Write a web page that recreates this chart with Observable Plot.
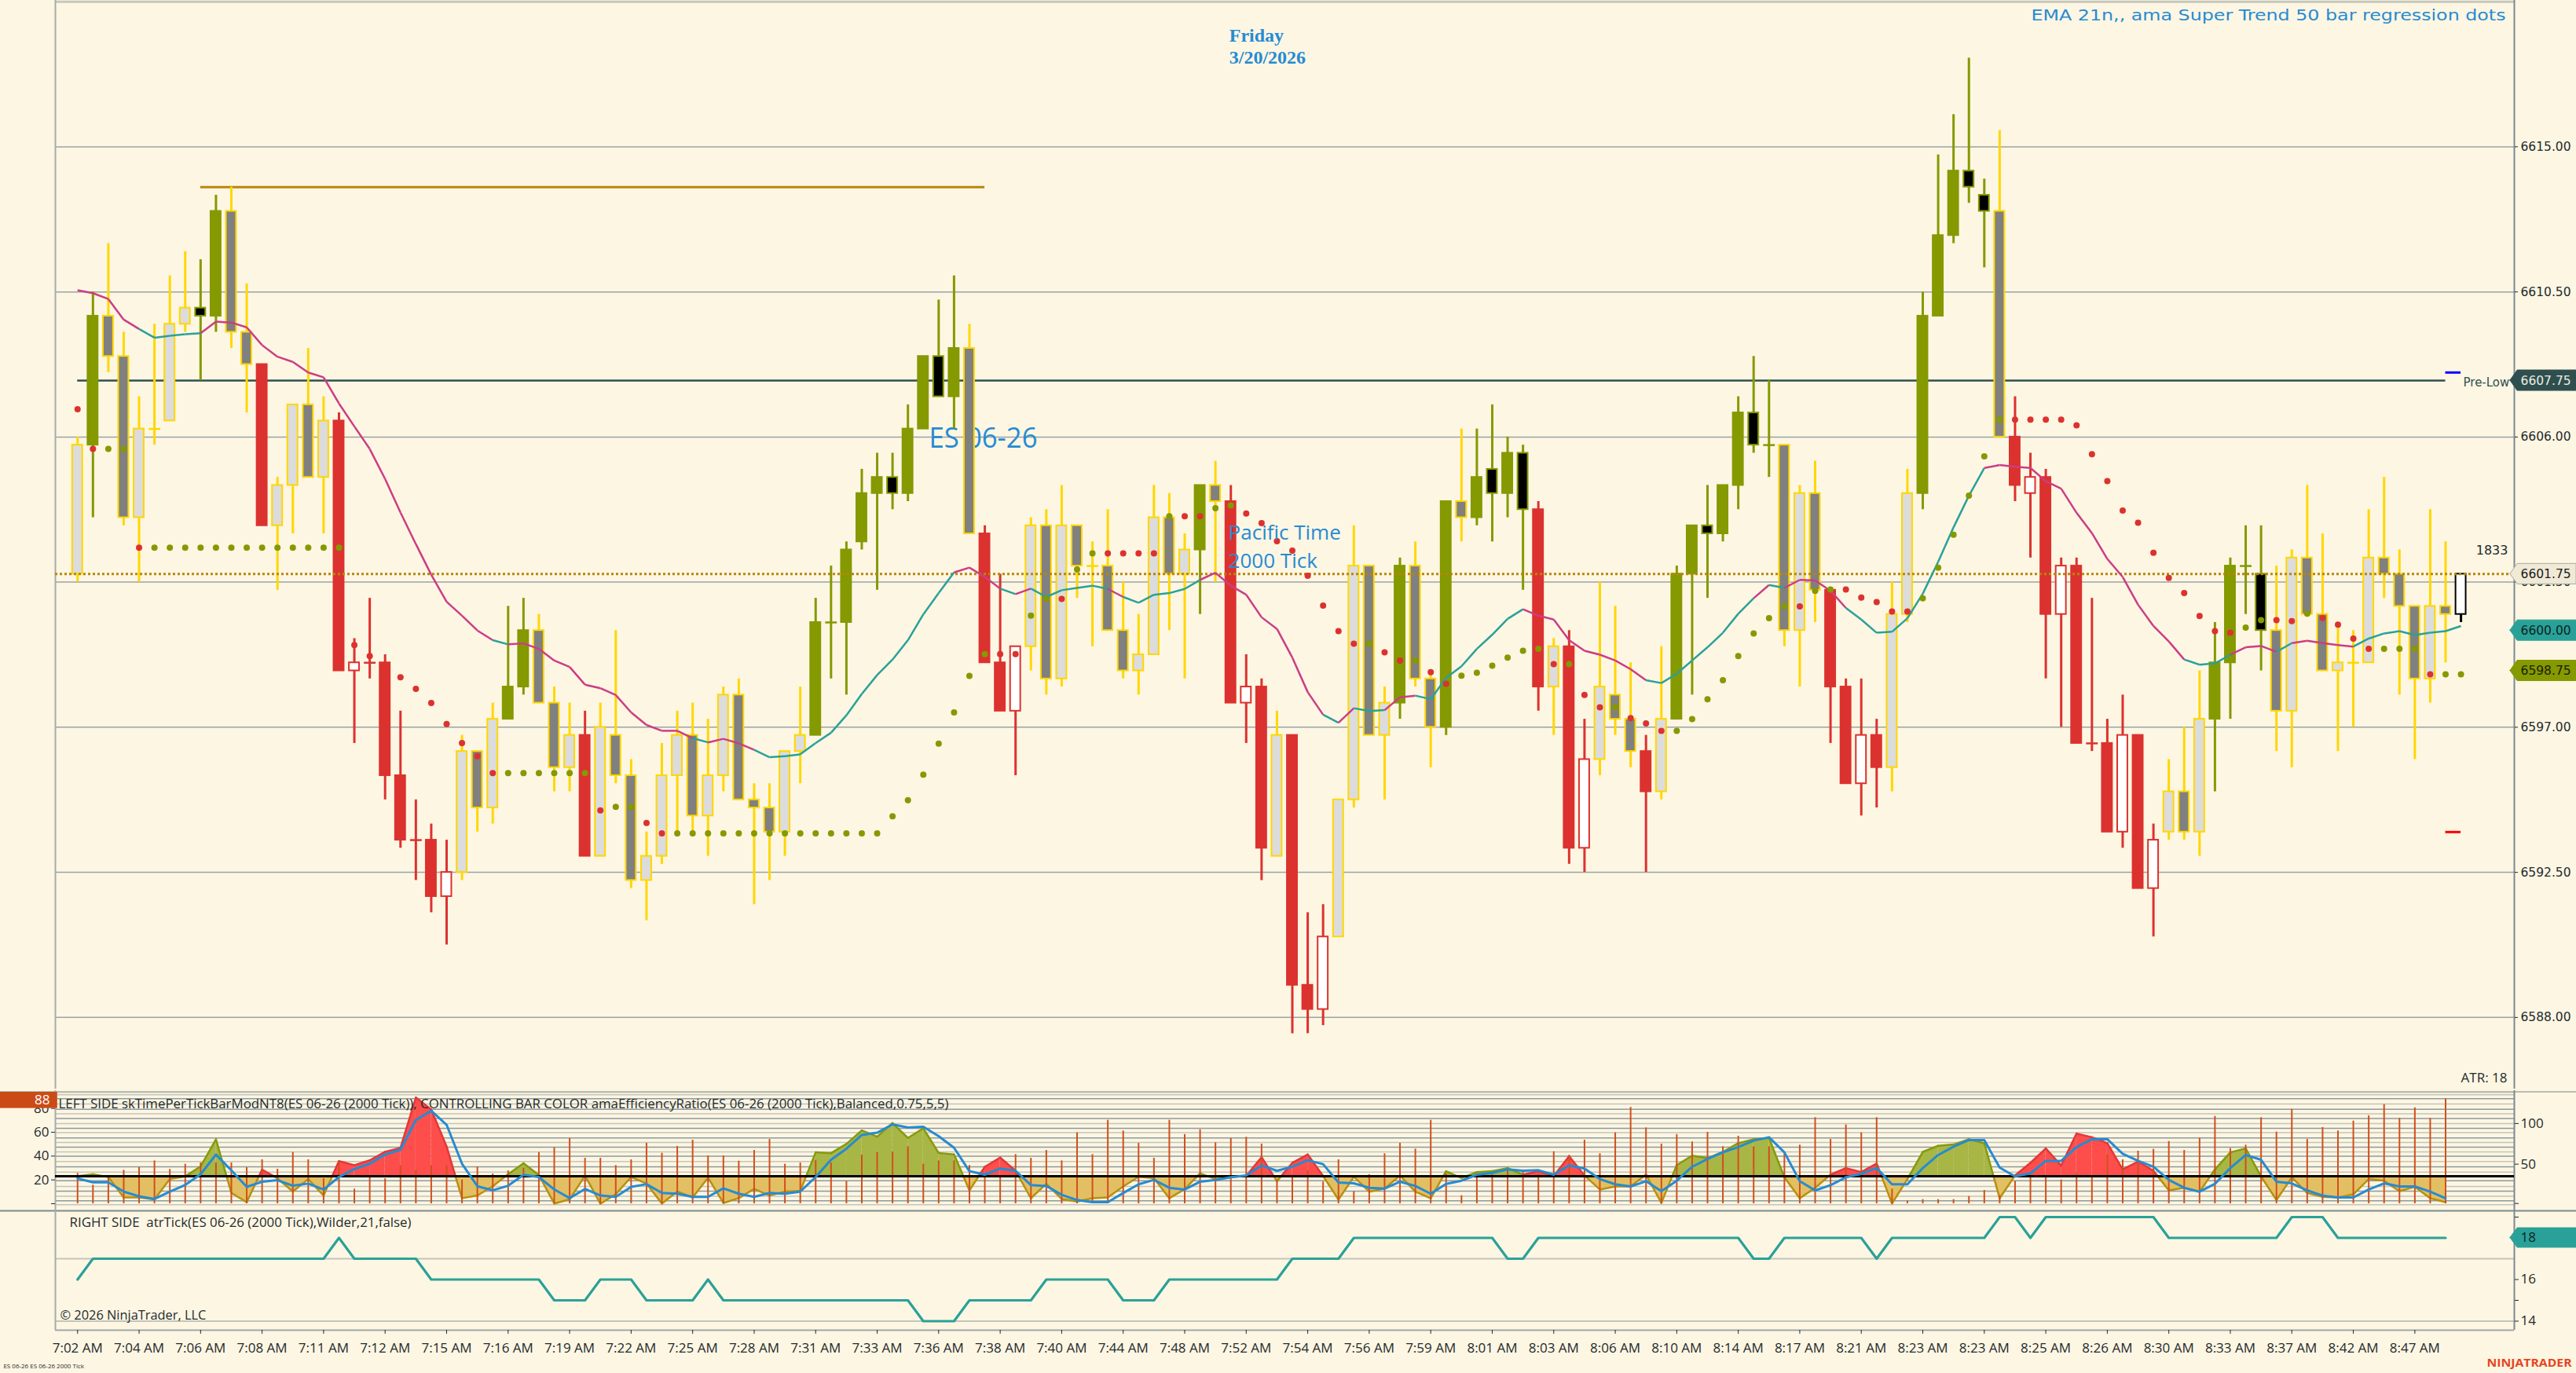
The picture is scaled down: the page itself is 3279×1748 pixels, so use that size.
<!DOCTYPE html>
<html><head><meta charset="utf-8">
<script src="https://cdn.jsdelivr.net/npm/d3@7"></script>
<script src="https://cdn.jsdelivr.net/npm/@observablehq/plot@0.6"></script>
<style>
html,body{margin:0;padding:0;background:#fdf6e3;overflow:hidden;}
#chart{position:relative;width:3279px;height:1748px;background:#fdf6e3;overflow:hidden;}
#chart svg{position:absolute;left:0;}
</style></head><body><div id="chart"></div>
<script>
// ---------------- DATA ----------------
const open = [6601.75,6605.75,6609.75,6608.5,6603.5,6606.25,6606.5,6609.5,6610,6609.75,
6613,6609.25,6608.25,6603.25,6604.5,6607,6604.75,6606.5,6598.75,6599,
6599,6595.5,6593.5,6593.5,6591.75,6592.5,6596.25,6594.5,6597.25,6598.25,
6600,6597.75,6595.75,6596.75,6593,6596.75,6595.5,6592.25,6593,6595.5,
6596.75,6594.25,6595.5,6598,6594.75,6594.5,6593.75,6596.25,6596.75,6600.25,
6600.25,6602.75,6604.25,6604.75,6604.25,6606.25,6608.5,6607.25,6608.75,6603,
6599,6597.5,6599.5,6603.25,6598.5,6603.25,6602,6602,6600,6598.75,
6599.25,6603.5,6601.75,6602.5,6604.5,6604,6597.75,6598.25,6593,6596.75,
6589,6588.25,6590.5,6594.75,6602,6596.75,6597.75,6602,6598.5,6597,
6604,6603.5,6605,6604.25,6605.5,6603.75,6598.25,6599.5,6593.25,6596,
6598,6597.25,6596.25,6595,6597.25,6601.75,6603.25,6603,6604.5,6606.75,
6605.75,6605.75,6600,6604.25,6601.25,6598.25,6595.25,6596.75,6595.75,6600.5,
6604.25,6609.75,6612.25,6614.25,6613.5,6613,6606,6604.25,6604.75,6600.5,
6602,6596.5,6596.5,6593.75,6596.75,6592,6593.75,6595,6593.75,6597.25,
6599,6602,6601.75,6600,6597.5,6602.25,6600.5,6598.75,6599,6599,
6602.25,6601.75,6600.75,6598.5,6600.75,6600.5];
const high = [6606,6610.5,6612,6609.25,6607.25,6609.5,6611,6611.75,6611.5,6613.5,
6613.75,6610.75,6608.25,6604.75,6607,6608.75,6607.25,6606.75,6599.75,6601,
6599.25,6597.5,6594.75,6594,6593.5,6596.75,6596.25,6597.75,6600.75,6601,
6600.5,6598.25,6597.75,6597.5,6597.75,6600,6596,6593.75,6596.5,6597.5,
6597.75,6597.25,6598.25,6598.5,6595.25,6595.25,6596.25,6598.25,6601,6602,
6602.75,6605,6605.5,6605.5,6607,6608.5,6610.25,6611,6609.5,6603.25,
6601.75,6599.5,6603.5,6603.75,6604.5,6603.25,6602.75,6603.75,6601.5,6600.5,
6604.5,6604.25,6603,6604.5,6605.25,6604.5,6599.25,6598.5,6597.5,6596.75,
6591.25,6591.5,6594.75,6603.25,6602,6598.25,6602.25,6602.75,6598.75,6604,
6606.25,6606.25,6607,6606,6605.75,6604,6599.75,6600,6597.25,6601.5,
6600.75,6599,6596.75,6599.5,6602,6603.25,6604.5,6604.5,6607.25,6608.5,
6607.75,6605.75,6604.5,6605.25,6601.25,6598.5,6598.5,6597.25,6601.5,6605,
6610.5,6614.75,6616,6617.75,6614,6615.5,6607.25,6605.5,6605,6602.25,
6602.25,6601,6597.25,6598,6596.75,6594,6596,6597,6598.75,6600.25,
6602.25,6603.25,6603.25,6602,6602.5,6604.5,6603,6600.25,6600,6603.75,
6604.75,6602.5,6600.75,6603.75,6602.75,6601.75];
const low = [6601.5,6603.5,6608,6603.25,6601.5,6605.75,6606.5,6609.25,6607.75,6609.25,
6608.75,6606.75,6603.25,6601.25,6603,6604.75,6603,6598.75,6596.5,6598.5,
6594.75,6593.25,6592.25,6591.25,6590.25,6592.25,6593.75,6594,6597.25,6598,
6597.75,6595,6595,6593,6593,6595.25,6592,6591,6592.75,6593.75,
6593.75,6593,6595,6594.75,6591.5,6592.25,6593,6595.25,6596.75,6598.5,
6598,6602.5,6601.25,6603.75,6604,6606.25,6607.25,6606.25,6603,6599,
6597.5,6595.5,6598.75,6598,6598.25,6601,6599.5,6600,6598.5,6598,
6599.25,6600,6598.5,6600.5,6601.5,6597.75,6596.5,6592.25,6593,6587.5,
6587.5,6587.75,6590.5,6594.5,6596.75,6594.75,6597.25,6598.25,6595.75,6596.75,
6602.75,6603.25,6602.75,6603.5,6601.25,6597.5,6596.75,6592.75,6592.5,6595.5,
6596.75,6595.75,6592.5,6594.75,6597.25,6598,6601,6602.75,6603.75,6605.5,
6604.75,6599.5,6598.25,6600.25,6596.5,6595.25,6594.25,6594.5,6595,6600.25,
6603.75,6609.75,6612,6613.25,6611.25,6606,6604,6602.25,6598.5,6597,
6596.5,6596.25,6593.75,6593.25,6592,6590.5,6593.5,6593.5,6593,6595,
6597.25,6600.5,6598.75,6596.25,6595.75,6600.5,6598.75,6596.25,6597,6599,
6601,6598,6596,6597.75,6599,6600.25];
const close = [6605.75,6609.75,6608.5,6603.5,6606.25,6606.25,6609.5,6610,6609.75,6613,
6609.25,6608.25,6603.25,6604.5,6607,6604.75,6606.5,6598.75,6599,6599,
6595.5,6593.5,6593.5,6591.75,6592.5,6596.25,6594.5,6597.25,6598.25,6600,
6597.75,6595.75,6596.75,6593,6597,6595.5,6592.25,6593,6595.5,6596.75,
6594.25,6595.5,6598,6594.75,6594.5,6593.75,6596.25,6596.75,6600.25,6600.25,
6602.5,6604.25,6604.75,6604.25,6606.25,6608.5,6607.25,6608.75,6603,6599,
6597.5,6599.5,6603.25,6598.5,6603.25,6602,6602,6600,6598.75,6599.25,
6603.5,6601.75,6602.5,6604.5,6604,6597.75,6598.25,6593.25,6596.75,6589,
6588.25,6590.5,6594.75,6602,6596.75,6597.75,6602,6598.5,6597,6604,
6603.5,6604.75,6604.25,6605.5,6603.75,6598.25,6599.5,6593.25,6596,6598.25,
6597.25,6596.25,6595,6597.25,6601.75,6603.25,6603,6604.5,6606.75,6605.75,
6605.75,6600,6604.25,6601.25,6598.25,6595.25,6596.75,6595.75,6600.5,6604.25,
6609.75,6612.25,6614.25,6613.75,6613,6606,6604.5,6604.75,6600.5,6602,
6596.5,6596.5,6593.75,6596.75,6592,6593.5,6595,6593.75,6597.25,6599,
6602,6602,6600,6597.5,6602.25,6600.5,6598.75,6599,6599,6602.25,
6601.75,6600.75,6598.5,6600.75,6600.5,6601.75];
// bar state from the efficiency-ratio colouring: u = up trend, d = down trend, n = neutral, c = current bar
const trend = ("nunnnnnnuu"+"nndnnnnddd"+"dddddnnnuu"+"nnndnnnnnn"+"nnnnnnnnuu"+
  "uuuuuuuund"+"ddnnnnnnnn"+"nnnundddnd"+"ddnnnnunnu"+"nuuuudnddn"+
  "nndnuuuuuu"+"unnnddddnn"+"uuuuundddd"+"ddddddnnnu"+"uuunnnnnnn"+"nnnnnc").split("");
const ema21 = [6610.55,6610.46,6610.28,6609.64,6609.35,6609.08,6609.14,6609.19,6609.22,6609.58,
6609.55,6609.4,6608.85,6608.49,6608.33,6608.0,6607.85,6607.04,6606.33,6605.63,
6604.7,6603.66,6602.68,6601.73,6600.89,6600.46,6600.0,6599.7,6599.57,6599.6,
6599.43,6599.07,6598.87,6598.32,6598.21,6598.0,6597.46,6597.07,6596.89,6596.89,
6596.66,6596.53,6596.64,6596.5,6596.3,6596.07,6596.1,6596.16,6596.51,6596.83,
6597.37,6598.03,6598.62,6599.1,6599.7,6600.5,6601.16,6601.8,6601.95,6601.66,
6601.3,6601.13,6601.3,6601.04,6601.25,6601.32,6601.39,6601.29,6601.04,6600.86,
6601.11,6601.16,6601.29,6601.57,6601.79,6601.39,6601.11,6600.41,6600.05,6599.16,
6598.09,6597.39,6597.14,6597.59,6597.5,6597.53,6597.93,6597.98,6597.87,6598.53,
6598.89,6599.43,6599.87,6600.36,6600.66,6600.46,6600.34,6599.7,6599.37,6599.25,
6599.07,6598.8,6598.46,6598.37,6598.66,6599.07,6599.48,6599.93,6600.52,6601.0,
6601.41,6601.32,6601.57,6601.55,6601.23,6600.7,6600.34,6599.93,6599.96,6600.38,
6601.14,6602.13,6603.2,6604.18,6605.04,6605.13,6605.08,6605.04,6604.63,6604.4,
6603.65,6603.02,6602.22,6601.66,6600.8,6600.14,6599.66,6599.1,6598.94,6598.98,
6599.25,6599.48,6599.52,6599.34,6599.61,6599.68,6599.61,6599.55,6599.5,6599.75,
6599.91,6599.98,6599.86,6599.93,6599.98,6600.14];
// EMA segment colour (segment ending at each bar): p = magenta, t = cyan
const emaTone = ("pppppttttp"+"pppppppppp"+"pppppppptp"+"pppppppppp"+"ptpppttttt"+
  "ttttttttpp"+"ptptttttpt"+"ttttpppppp"+"pptpttpptt"+"tttttppppp"+
  "pppttttttt"+"ptpppptttt"+"tttttppppp"+"pppppppptt"+"tppptppppt"+"tttttt").split("");
const stDots = [6606.86,6605.63,6605.63,6605.63,6602.57,
6602.57,6602.57,6602.57,6602.57,6602.57,6602.57,6602.57,6602.57,6602.57,6602.57,6602.57,6602.57,6602.57,
6599.55,6599.21,6598.85,6598.55,6598.19,6597.75,6597.1,6596.51,6596.1,6595.58,
6595.58,6595.58,6595.58,6595.58,6595.58,6595.58,
6594.42,6594.53,6594.53,6594.03,6593.71,
6593.71,6593.71,6593.71,6593.71,6593.71,6593.71,6593.71,6593.71,6593.71,6593.71,6593.71,6593.71,6593.71,6593.71,
6594.24,6594.74,6595.53,6596.49,6597.46,6598.59,6599.27,
6599.27,6599.27,6600.46,6600.98,6600.98,6601.89,6602.39,
6602.39,6602.39,6602.39,6602.39,6603.54,6603.54,6603.54,6603.79,6603.88,
6603.63,6603.33,6602.77,6602.48,6601.7,6600.77,6599.98,6599.59,6599.59,
6599.32,6599.07,6599.07,6598.71,6598.35,
6598.6,6598.69,6598.91,6599.16,6599.37,6599.43,6598.96,6598.96,
6598.0,6597.62,6597.62,6597.28,6597.12,6596.89,6596.89,
6597.25,6597.87,6598.46,6599.21,6599.91,6600.38,6600.75,6600.75,
6601.23,6601.27,6601.27,6601.02,6600.88,6600.59,6600.59,
6601.0,6601.95,6602.97,6604.18,6605.4,6606.54,
6606.54,6606.54,6606.54,6606.54,
6606.36,6605.47,6604.63,6603.72,6603.34,6602.41,6601.63,6601.16,6600.45,6599.98,6599.93,
6600.09,6600.32,6600.32,6600.29,6600.52,6600.39,6600.18,6599.75,6599.43,
6599.43,6599.43,6599.43,6598.64,6598.64,6598.64];
// dot side: r = red (bearish), g = green (bullish)
const stSide = ("rrggrggggg"+"ggggggggrr"+"rrrrrrrrgg"+"ggggrggrrg"+"gggggggggg"+
  "gggggggggg"+"rrggrggrrr"+"rgrrggrrrr"+"rrrrgrrgrr"+"ggggggrgrr"+
  "grrrgggggg"+"ggrggrrrrr"+"ggggggrrrr"+"rrrrrrrrrr"+"rggrrgrrrr"+"gggrgg").split("");

// lower panel 1 (left scale): efficiency area, its blue average, and time-per-tick sticks
const effArea = [23,24.7,22.4,5.3,5.3,3.6,20.7,22.9,31.3,54,
9.1,1.3,28.7,21.3,10.2,20.7,6.9,35.8,32.4,36.4,
43.6,46.9,89.1,79.1,48,4.7,6.9,14.7,24.7,34,
24,0.2,3.6,23.6,0,8,22.4,16.9,0.2,10.2,
5.3,21.8,0.7,4.7,12.4,6.9,10.2,10.7,43.1,42.4,
50.2,61.5,56.3,67.7,55.2,63.3,42.6,41.3,11.2,31,
38.7,27.7,4.6,16.7,4,1.8,4.6,5.3,14.5,22.6,
21.5,4.6,12.3,25.5,20.7,22.2,23.3,39.1,18.9,34.3,
41.3,23.3,3.5,22.6,10.1,12.7,23.7,10.1,4.6,27.3,
21.5,26.6,27.3,29.9,24.4,27.3,23.3,39.8,23.7,11.9,
14.5,14.5,24.4,0.7,32.5,40.4,38.2,43.5,50.8,54.1,
55.2,22.2,4.6,13.4,24.4,29.9,26.6,33.8,0.2,20.7,
43.5,48.6,49.7,54.1,50.8,4.6,23.7,34.3,46.4,32.1,
58.9,55.8,50.8,28.8,35.4,27.7,11.2,13.4,10.1,28.8,
43.1,46.4,22.9,3.1,22.2,9,5.7,5.3,7.9,20.7,
19.3,10.5,14.1,4.6,1.3];
const effAvg = [21.3,18,18,10.2,6.2,4,10.2,15.8,24.7,41.3,
28,14.2,18.4,19.8,15.1,16.9,12,22.4,29.1,33.6,
41.3,45.3,70.2,78,66.2,33.6,14.7,11.3,15.1,24.2,
22.4,12,4.7,12.4,6.9,5.8,14.2,16.4,9.1,8.4,
5.8,5.8,12.9,8.4,5.8,9.1,8.4,10.2,22.4,36.9,
46.2,57.7,59.6,66.6,64,64.6,56.7,47,27.3,24.4,
29.5,27.7,15.6,14.9,7.5,3.1,1.3,1.3,9,16.3,
20,13.4,11.9,18.5,20,22.2,23.7,32.1,27.7,31,
36.5,33.2,17.8,17.1,13.4,12.7,18.5,14.9,8.4,16.7,
19.3,24.4,25.9,28.8,27.7,28.1,24.4,32.1,29.5,20.7,
16.3,14.5,18.9,10.5,19.3,31,37.6,43.1,47.5,53,
55.8,43.1,18.9,11.2,15.6,22.2,25.1,29.9,16.3,16.3,
29.9,40.9,47.9,53.4,53.4,30.3,22.9,25.5,36,36,
47.5,54.1,54.1,42,36,31,20,13.4,10.1,16.7,
29.9,40.9,36.9,18.5,17.1,11.2,6.8,5.3,5.3,11.9,
17.1,14.5,14.5,10.1,4.6];
const timePerTick = [25.5,15.6,22.2,28.1,30.5,36,28.8,33.2,34.3,34.3,
34.3,30.3,36.9,29,43.1,36.9,21.1,34.3,12.3,23.3,
21.1,32.1,28.1,32.1,32.1,20,31,25,27.7,29.9,
43.1,47,54.7,38.2,38.2,32.1,36.9,50.8,42.4,48.1,
53.4,40.2,40.2,35.8,44.8,54,33.2,34.3,36.5,34.3,
18.9,40.9,43.1,43.5,47.9,33.2,36,36,32.1,24.4,
23.7,41.3,38.2,44.8,36,59.6,41.3,70.1,61.1,50.8,
38.2,70.1,58.1,62.2,51.2,54.7,55.8,50.1,20,24.4,
27.7,18.3,36.9,10.1,24.4,42,50.8,45.9,70.1,25,
6.8,24.4,24.4,29.4,28.1,25.1,43.7,40.7,53.4,42,
59.6,80.9,63.7,50.1,58.1,51.9,60,47.9,56.7,47.9,
47.9,43.1,49.2,72.3,54,66.2,59.6,72.3,12.3,2.4,
3.5,3.5,3.5,6.1,11.2,6.8,18.9,23.7,22.8,20,
25.5,22.2,40.9,36.9,44.2,45.7,52.3,44.8,54.9,73.4,
46.4,49.2,72.3,60.2,79.3,54,64,61.1,69.4,73.9,
83.3,71.7,80.5,71.7,88.1];
const effThreshold = 23;
const panel1Grid = [93.6,91.4,88.1,83.7,79.3,75.4,71.6,67.3,63.3,59.6,55.2,51.4,47.5,43.5,39.8,35.4,31,26.6,19.3,14.5,10.5,6.2,2.4,-0.9];
// lower panel 2: ATR in ticks (Wilder, 21)
const atrTicks = [16,17,17,17,17,17,17,17,17,17,
17,17,17,17,17,17,17,18,17,17,
17,17,17,16,16,16,16,16,16,16,
16,15,15,15,16,16,16,15,15,15,
15,16,15,15,15,15,15,15,15,15,
15,15,15,15,15,14,14,14,15,15,
15,15,15,16,16,16,16,16,15,15,
15,16,16,16,16,16,16,16,16,17,
17,17,17,18,18,18,18,18,18,18,
18,18,18,17,17,18,18,18,18,18,
18,18,18,18,18,18,18,18,18,17,
17,18,18,18,18,18,18,17,18,18,
18,18,18,18,18,19,19,18,19,19,
19,19,19,19,19,19,18,18,18,18,
18,18,18,18,19,19,19,18,18,18,
18,18,18,18,18];
const timeLabels = ["7:02 AM","7:04 AM","7:06 AM","7:08 AM","7:11 AM","7:12 AM","7:15 AM","7:16 AM","7:19 AM","7:22 AM",
"7:25 AM","7:28 AM","7:31 AM","7:33 AM","7:36 AM","7:38 AM","7:40 AM","7:44 AM","7:48 AM","7:52 AM",
"7:54 AM","7:56 AM","7:59 AM","8:01 AM","8:03 AM","8:06 AM","8:10 AM","8:14 AM","8:17 AM","8:21 AM",
"8:23 AM","8:23 AM","8:25 AM","8:26 AM","8:30 AM","8:33 AM","8:37 AM","8:42 AM","8:47 AM"];
const priceTicks = [6615, 6610.5, 6606, 6601.5, 6597, 6592.5, 6588];
const priceMarkers = [
  {p: 6607.75, fill: "#2f4f4f", ink: "#ecece4", line: "#2f4f4f"},
  {p: 6601.75, fill: "#f0e9d6", ink: "#1c1c1c", line: "#a9aba0"},
  {p: 6600.00, fill: "#2aa198", ink: "#0b2523", line: "#2aa198"},
  {p: 6598.75, fill: "#859900", ink: "#1b1e00", line: "#859900"}
];
const highLine = 6613.75, preLow = 6607.75, lastPrice = 6601.75;

// ---------------- STYLE ----------------
const W = 3279;
const X0 = -1.443, X1 = 158.47;   // bar-index span of the plotting frame
const XL = -5.02, XR = 162.51;    // bar-index at the window edges
const INK = "#1e2b2e", BLUE = "#268bd2", OLIVE = "#859900", RED = "#dc322f", GOLD = "#ffd700",
      TEAL = "#2aa198", MAGENTA = "#cc3d84";
const AREA_FILL = {olive: "#a8b646", red: "#fd4e4c", gold: "#e3bf63"};
const AREA_EDGE = {olive: "#869a0c", red: "#e2383a", gold: "#b8900e"};

const bars = open.map((o, i) => ({i, o, h: high[i], l: low[i], c: close[i], t: trend[i]}));
function wickColor(d) { return d.t === "u" ? OLIVE : d.t === "d" ? RED : d.t === "c" ? "#000000" : GOLD; }
function bodyFill(d) {
  const up = d.c >= d.o;
  if (d.t === "u") return up ? OLIVE : "#000000";
  if (d.t === "d") return up ? "#ffffff" : RED;
  if (d.t === "c") return "#ffffff";
  return up ? "#dcdcdc" : "#808080";
}
const emaSegs = ema21.slice(1).map((v, k) => ({x1: k, y1: ema21[k], x2: k + 1, y2: v, c: emaTone[k + 1] === "t" ? TEAL : MAGENTA}));

function note(str, x, y, o = {}) {
  return Plot.text([str], {x, y, text: d => d, lineAnchor: "bottom", textAnchor: "start",
    fontFamily: "Open Sans", fontSize: 16, fill: INK, ...o});
}
function markerShape(list, tip, base, half) {
  const pts = [];
  list.forEach((m, k) => {
    pts.push({k, x: tip, y1: m.p, y2: m.p, f: m.fill, s: m.line});
    pts.push({k, x: base, y1: m.p - half, y2: m.p + half, f: m.fill, s: m.line});
    pts.push({k, x: XR, y1: m.p - half, y2: m.p + half, f: m.fill, s: m.line});
  });
  return Plot.areaY(pts, {x: "x", y1: "y1", y2: "y2", z: "k", fill: "f", stroke: "s", strokeWidth: 1});
}
const baseStyle = {background: "transparent", fontFamily: "Open Sans", color: INK};

// ---------------- MAIN PRICE PANEL ----------------
const mainPlot = Plot.plot({
  width: W, height: 1386, marginTop: 0, marginBottom: 0, marginLeft: 70, marginRight: 79,
  x: {type: "linear", domain: [X0, X1], axis: null, label: null},
  y: {type: "linear", domain: [6585.78, 6619.54], label: null},
  style: baseStyle,
  marks: [
    Plot.ruleY([6619.5], {stroke: "#c6c8bd", strokeWidth: 3}),
    Plot.ruleY(priceTicks, {stroke: "#98a4a6", strokeWidth: 1.5}),
    Plot.ruleX([X0], {stroke: "#a5acab", strokeWidth: 2}),
    Plot.ruleX([X1], {stroke: "#7b8a8f", strokeWidth: 2}),
    Plot.ruleY([highLine], {x1: 8, x2: 59, stroke: "#b8860b", strokeWidth: 3}),
    Plot.ruleY([preLow], {x1: 0, x2: 154, stroke: "#2f4f4f", strokeWidth: 2.5}),
    Plot.ruleY([6608.0], {x1: 154, x2: 155, stroke: "#0000ff", strokeWidth: 3}),
    Plot.ruleY([6593.75], {x1: 154, x2: 155, stroke: "#ff0000", strokeWidth: 3}),
    note("ES 06-26", 55.37, 6605.66, {fontSize: 36, fill: BLUE}),
    Plot.ruleX(bars, {x: "i", y1: "l", y2: "h", stroke: wickColor, strokeWidth: 3}),
    Plot.rect(bars.filter(d => d.o !== d.c), {x1: d => d.i - 0.33, x2: d => d.i + 0.33, y1: "o", y2: "c",
      fill: bodyFill, stroke: wickColor, strokeWidth: 2}),
    Plot.link(bars.filter(d => d.o === d.c), {x1: d => d.i - 0.38, x2: d => d.i + 0.38, y1: "o", y2: "o",
      stroke: wickColor, strokeWidth: 2.5}),
    Plot.ruleY([lastPrice], {stroke: "#b8860b", strokeWidth: 3, strokeDasharray: "3,3"}),
    Plot.link(emaSegs, {x1: "x1", y1: "y1", x2: "x2", y2: "y2", stroke: "c", strokeWidth: 2.5}),
    Plot.dot(bars, {x: "i", y: d => stDots[d.i], fill: d => stSide[d.i] === "r" ? RED : OLIVE, r: 4}),
    note("Pacific Time", 74.84, 6602.81, {fontSize: 26, fill: BLUE}),
    note("2000 Tick", 74.84, 6601.93, {fontSize: 26, fill: BLUE}),
    note("Friday", 74.9, 6618.25, {fontSize: 24, fontWeight: "bold", fontFamily: "Liberation Serif", fill: BLUE}),
    note("3/20/2026", 74.9, 6617.59, {fontSize: 24, fontWeight: "bold", fontFamily: "Liberation Serif", fill: BLUE}),
    note("EMA 21n,, ama Super Trend 50 bar regression dots", 157.91, 6618.93, {fontSize: 20, fontFamily: "DejaVu Sans", fill: BLUE, textAnchor: "end"}),
    note("Pre-Low", 155.15, 6607.56, {fontSize: 15, fontFamily: "DejaVu Sans", fill: "#2f4f4f"}),
    note("1833", 158.06, 6602.35, {fontSize: 16, fontFamily: "DejaVu Sans", textAnchor: "end"}),
    note("ATR: 18", 158.01, 6585.99, {fontSize: 17, textAnchor: "end"}),
    Plot.axisY(priceTicks, {anchor: "right", tickSize: 4, tickPadding: 4, label: null,
      tickFormat: d => d.toFixed(2), fontFamily: "DejaVu Sans", fontSize: 15.5, color: INK}),
    markerShape(priceMarkers, 158.21, 158.68, 0.317),
    Plot.text(priceMarkers, {x: 158.88, y: "p", text: d => d.p.toFixed(2), fill: "ink", textAnchor: "start",
      lineAnchor: "middle", fontFamily: "DejaVu Sans", fontSize: 15.5})
  ]
});

// ---------------- PANEL 1 : time per tick + efficiency ratio ----------------
function sideColor(k) {
  for (let j = k; j >= Math.max(0, k - 3); --j) {
    if (trend[j] === "u") return "olive";
    if (trend[j] === "d") return "red";
  }
  return "olive";
}
const areaPts = [];
let sid = 0;
function pushSeg(xa, ya, xb, yb, c) { areaPts.push({seg: sid, x: xa, y: ya, c}, {seg: sid, x: xb, y: yb, c}); sid++; }
const T = effThreshold;
for (let k = 0; k < effArea.length - 1; ++k) {
  const a = effArea[k], b = effArea[k + 1];
  if ((a - T) * (b - T) < 0) {
    const xc = k + (T - a) / (b - a);
    pushSeg(k, a, xc, T, a > T ? sideColor(k) : "gold");
    pushSeg(xc, T, k + 1, b, b > T ? sideColor(k + 1) : "gold");
  } else {
    const above = a >= T && b >= T && !(a === T && b === T);
    pushSeg(k, a, k + 1, b, above ? (trend[k + 1] === "n" ? sideColor(k) : sideColor(k + 1)) : "gold");
  }
}
const stickRows = timePerTick.map((v, i) => ({i, v}));
const avgRows = effAvg.map((v, i) => ({i, v}));
const rightVals = [0.2, 33.2, 67.3], rightText = ["", "50", "100"];
const label1 = "LEFT SIDE skTimePerTickBarModNT8(ES 06-26 (2000 Tick)), CONTROLLING BAR COLOR amaEfficiencyRatio(ES 06-26 (2000 Tick),Balanced,0.75,5,5)";
const panel1 = Plot.plot({
  width: W, height: 152, marginTop: 0, marginBottom: 0, marginLeft: 70, marginRight: 79,
  x: {type: "linear", domain: [X0, X1], axis: null, label: null},
  y: {type: "linear", domain: [-5.27, 94.92], label: null},
  style: baseStyle,
  marks: [
    Plot.ruleY(panel1Grid, {stroke: (d, k) => k % 2 ? "#c3c5bb" : "#8d9a9d", strokeWidth: 1.5}),
    Plot.ruleY([93.9], {x1: XL, x2: XR, stroke: "#b9bcb3", strokeWidth: 2}),
    Plot.ruleX([X0], {stroke: "#a5acab", strokeWidth: 2}),
    Plot.ruleX([X1], {stroke: "#7b8a8f", strokeWidth: 2}),
    Plot.areaY(areaPts, {x: "x", y1: T, y2: "y", z: "seg", fill: d => AREA_FILL[d.c]}),
    Plot.line(areaPts, {x: "x", y: "y", z: "seg", stroke: d => AREA_EDGE[d.c], strokeWidth: 2.5}),
    Plot.ruleX(stickRows, {x: "i", y1: 0, y2: "v", stroke: "#d24f1b", strokeWidth: 2}),
    Plot.ruleY([T], {stroke: "#000000", strokeWidth: 3}),
    Plot.line(avgRows, {x: "i", y: "v", stroke: BLUE, strokeWidth: 3}),
    Plot.axisY([0, 20, 40, 60, 80], {anchor: "left", tickSize: 5, tickPadding: 3, label: null,
      tickFormat: d => d === 0 ? "" : String(d), fontSize: 17, color: INK}),
    Plot.axisY(rightVals, {anchor: "right", tickSize: 5, tickPadding: 3, label: null,
      tickFormat: d => rightText[rightVals.indexOf(d)], fontSize: 17, color: INK}),
    Plot.rect([88], {x1: XL, x2: -1.3, y1: 80, y2: 93.6, fill: "#cb4b16"}),
    Plot.text(["88"], {x: -2.3, y: 86.8, text: d => d, fill: "#ffffff", fontSize: 17, lineAnchor: "middle"}),
    note(label1, -1.24, 79.8, {fontSize: 16})
  ]
});

// ---------------- PANEL 2 : ATR ----------------
const atrRows = atrTicks.map((v, i) => ({i, v}));
const labelBars = timeLabels.map((s, k) => k * 4);
const label2 = "RIGHT SIDE\u00a0 atrTick(ES 06-26 (2000 Tick),Wilder,21,false)";
const panel2 = Plot.plot({
  width: W, height: 208, marginTop: 0, marginBottom: 55, marginLeft: 70, marginRight: 79,
  x: {type: "linear", domain: [X0, X1], label: null},
  y: {type: "linear", domain: [13.566, 19.34], label: null},
  style: baseStyle,
  marks: [
    Plot.ruleY([17, 14], {stroke: "#c3c5bb", strokeWidth: 2}),
    Plot.ruleY([19.3], {x1: XL, x2: XR, stroke: "#7d8b8e", strokeWidth: 2}),
    Plot.ruleY([13.566], {stroke: "#a0a8a8", strokeWidth: 2}),
    Plot.ruleX([X0], {stroke: "#a5acab", strokeWidth: 2}),
    Plot.ruleX([X1], {stroke: "#7b8a8f", strokeWidth: 2}),
    Plot.line(atrRows, {x: "i", y: "v", stroke: TEAL, strokeWidth: 3.2}),
    Plot.axisX(labelBars, {tickSize: 5, tickPadding: 11, label: null, tickFormat: d => timeLabels[d / 4],
      fontSize: 17, color: INK}),
    Plot.axisY([14, 15, 16, 19], {anchor: "right", tickSize: 5, tickPadding: 3, label: null,
      tickFormat: d => (d === 14 || d === 16) ? String(d) : "", fontSize: 17, color: INK}),
    markerShape([{p: 18, fill: TEAL, line: TEAL}], 158.21, 158.68, 0.47),
    Plot.text(["18"], {x: 158.88, y: 18, text: d => d, fill: "#0b2523", fontSize: 17, lineAnchor: "middle", textAnchor: "start"}),
    note(label2, -0.52, 18.51, {fontSize: 15.5}),
    note("\u00a9 2026 NinjaTrader, LLC", -1.14, 14.06, {fontSize: 16}),
    note("ES 06-26 ES 06-26 2000 Tick", -4.82, 11.75, {fontSize: 8}),
    note("NINJATRADER", 162.2, 11.8, {fontSize: 15, fontWeight: "bold", fill: "#e5461f", textAnchor: "end"})
  ]
});

// ---------------- ASSEMBLE ----------------
const fitWidths = {
  "EMA 21n,, ama Super Trend 50 bar regression dots": 604,
  "ES 06-26": 138,
  [label1]: 1133,
  [label2]: 435,
  "\u00a9 2026 NinjaTrader, LLC": 186,
  "NINJATRADER": 108
};
const host = document.getElementById("chart");
[[mainPlot, 0], [panel1, 1388], [panel2, 1540]].forEach(([svg, top]) => {
  svg.style.top = top + "px";
  svg.style.position = "absolute";
  svg.querySelectorAll("text").forEach(t => {
    const w = fitWidths[t.textContent];
    if (w) { t.setAttribute("textLength", w); t.setAttribute("lengthAdjust", "spacingAndGlyphs"); }
  });
  host.appendChild(svg);
});
</script></body></html>
